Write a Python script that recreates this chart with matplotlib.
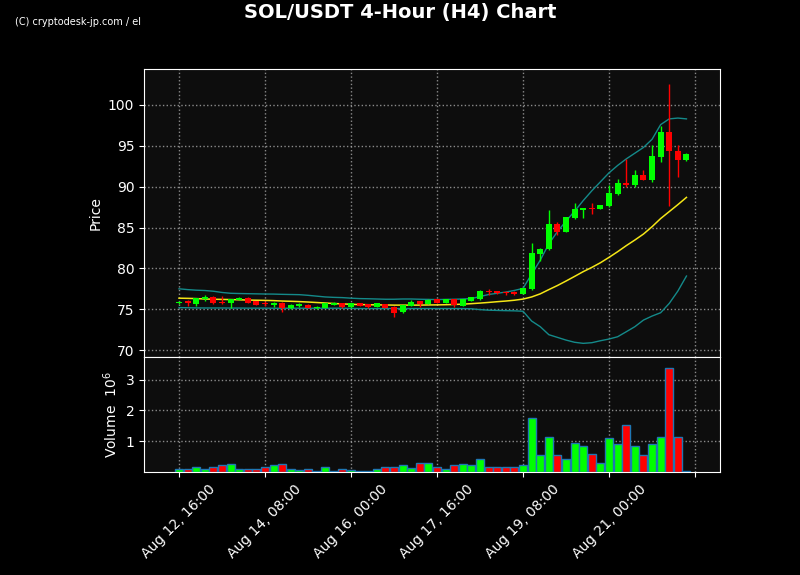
import matplotlib
matplotlib.use("Agg")
import matplotlib.pyplot as plt

# 4-hour candles, Aug 12 16:00 onward
opens = [75.7, 76.0, 75.65, 76.2, 76.5, 75.8, 75.7, 76.15, 76.4, 76.0,
         75.75, 75.55, 75.8, 75.1, 75.45, 75.55, 75.15, 75.2, 75.55, 75.73,
         75.28, 75.73, 75.6, 75.3, 75.6, 75.3, 74.6, 75.45, 75.95, 75.65,
         76.2, 75.75, 76.2, 75.45, 76.0, 76.25, 77.25, 77.2, 77.15, 77.15,
         76.9, 77.5, 81.8, 82.35, 85.4, 84.45, 86.2, 87.15, 87.4, 87.3,
         87.65, 89.1, 90.4, 90.2, 91.4, 90.8, 93.6, 96.75, 94.4, 93.25]
highs = [76.0, 76.1, 76.4, 76.75, 76.6, 76.6, 76.3, 76.5, 76.5, 76.05,
         76.0, 75.85, 75.85, 75.6, 75.8, 75.6, 75.35, 75.75, 75.85, 75.8,
         75.75, 75.78, 75.65, 75.75, 75.65, 75.35, 75.55, 76.1, 76.0, 76.2,
         76.25, 76.25, 76.25, 76.25, 76.5, 77.3, 77.45, 77.25, 77.2, 77.2,
         77.65, 83.05, 82.55, 87.2, 85.7, 86.3, 88.05, 87.45, 87.95, 87.8,
         90.15, 91.0, 93.4, 92.1, 92.0, 95.1, 97.4, 102.6, 95.05, 94.1]
lows = [75.6, 75.4, 75.45, 76.05, 75.6, 75.65, 75.1, 76.1, 75.75, 75.5,
        75.4, 75.25, 74.7, 75.05, 75.3, 75.15, 75.05, 75.15, 75.5, 75.2,
        75.2, 75.4, 75.2, 75.25, 75.1, 74.1, 74.5, 75.4, 75.25, 75.6,
        75.7, 75.7, 75.25, 75.4, 75.95, 76.1, 76.8, 76.85, 76.7, 76.75,
        76.85, 77.4, 80.95, 82.3, 84.1, 84.4, 86.1, 86.2, 86.7, 87.25,
        87.5, 88.95, 89.9, 89.9, 90.8, 90.6, 93.0, 87.6, 91.2, 93.2]
closes = [75.9, 75.7, 76.35, 76.5, 75.7, 75.75, 76.25, 76.4, 75.8, 75.55,
          75.65, 75.8, 75.1, 75.55, 75.65, 75.2, 75.3, 75.7, 75.8, 75.28,
          75.73, 75.45, 75.28, 75.7, 75.15, 74.55, 75.5, 75.9, 75.65, 76.15,
          75.75, 76.2, 75.5, 76.2, 76.45, 77.25, 77.1, 76.95, 77.0, 76.9,
          77.6, 81.9, 82.35, 85.4, 84.5, 86.25, 87.3, 87.4, 87.3, 87.75,
          89.2, 90.4, 90.2, 91.4, 90.85, 93.7, 96.75, 94.35, 93.25, 93.95]
volumes = [0.11, 0.11, 0.15, 0.11, 0.18, 0.22, 0.25, 0.11, 0.11, 0.11,
           0.15, 0.22, 0.25, 0.11, 0.08, 0.11, 0.05, 0.15, 0.05, 0.09,
           0.08, 0.05, 0.05, 0.09, 0.18, 0.18, 0.22, 0.14, 0.28, 0.28,
           0.15, 0.11, 0.22, 0.25, 0.22, 0.41, 0.15, 0.18, 0.15, 0.15,
           0.22, 1.74, 0.57, 1.15, 0.57, 0.41, 0.93, 0.86, 0.60, 0.28,
           1.09, 0.90, 1.54, 0.86, 0.54, 0.90, 1.15, 3.39, 1.15, 0.05]  # x 1e6

sma = [76.35, 76.33, 76.3, 76.25, 76.22, 76.2, 76.18, 76.15, 76.12, 76.1,
       76.08, 76.05, 76.0, 75.97, 75.93, 75.88, 75.82, 75.76, 75.7, 75.65,
       75.6, 75.57, 75.55, 75.53, 75.52, 75.5, 75.5, 75.5, 75.5, 75.52,
       75.53, 75.55, 75.58, 75.62, 75.68, 75.75, 75.83, 75.92, 76.0, 76.1,
       76.24, 76.5, 76.88, 77.4, 77.9, 78.45, 79.02, 79.6, 80.12, 80.69,
       81.35, 82.04, 82.78, 83.47, 84.2, 85.1, 86.1, 86.95, 87.8, 88.69]
bb_upper = [77.5, 77.4, 77.33, 77.29, 77.2, 77.05, 76.95, 76.92, 76.9, 76.88,
            76.86, 76.85, 76.82, 76.8, 76.78, 76.7, 76.6, 76.5, 76.45, 76.42,
            76.35, 76.3, 76.28, 76.25, 76.22, 76.22, 76.25, 76.25, 76.22, 76.2,
            76.18, 76.2, 76.22, 76.25, 76.3, 76.55, 76.8, 76.95, 77.1, 77.3,
            77.55, 79.3, 81.0, 83.0, 84.5, 85.8, 87.0, 88.3, 89.5, 90.6,
            91.7, 92.6, 93.4, 94.1, 94.8, 95.8, 97.6, 98.3, 98.4, 98.3]
bb_lower = [75.2, 75.18, 75.16, 75.15, 75.15, 75.15, 75.14, 75.14, 75.13, 75.13,
            75.13, 75.12, 75.12, 75.12, 75.12, 75.12, 75.12, 75.12, 75.12, 75.12,
            75.1, 75.08, 75.08, 75.08, 75.08, 75.08, 75.08, 75.08, 75.08, 75.08,
            75.08, 75.08, 75.08, 75.08, 75.05, 74.95, 74.88, 74.85, 74.82, 74.8,
            74.75, 73.55, 72.86, 71.88, 71.55, 71.22, 70.95, 70.82, 70.9, 71.14,
            71.35, 71.63, 72.24, 72.86, 73.67, 74.16, 74.57, 75.71, 77.22, 79.06]

tick_pos = [0, 10, 20, 30, 40, 50, 60]
tick_labels = ["Aug 12, 16:00", "Aug 14, 08:00", "Aug 16, 00:00",
               "Aug 17, 16:00", "Aug 19, 08:00", "Aug 21, 00:00", ""]

UP, DOWN = "#00ff00", "#ff0000"
xs = list(range(len(opens)))
colors = [UP if c >= o else DOWN for o, c in zip(opens, closes)]

fig = plt.figure(figsize=(8, 5.75), dpi=100, facecolor="black")
ax = fig.add_axes([0.18, 0.379, 0.72, 0.5009])
axv = fig.add_axes([0.18, 0.179, 0.72, 0.2], sharex=ax)

for a in (ax, axv):
    a.set_facecolor("#0d0d0d")
    for s in a.spines.values():
        s.set_color("white")
    a.tick_params(colors="white", labelsize=10)
    a.grid(True, color="#aaaaaa", linestyle=":", linewidth=1, alpha=0.8)
    a.set_axisbelow(True)

# candles
for x, o, h, l, c, col in zip(xs, opens, highs, lows, closes, colors):
    ax.vlines(x, l, h, color=col, linewidth=1, zorder=3)
    ax.bar(x, max(abs(c - o), 0.08), bottom=min(o, c), width=0.7,
           color=col, linewidth=0, zorder=4)

ax.plot(xs, bb_upper, color="#148a8a", linewidth=1, zorder=2)
ax.plot(xs, bb_lower, color="#148a8a", linewidth=1, zorder=2)
ax.plot(xs, sma, color="#f5e616", linewidth=1.1, zorder=2)

axv.bar(xs, volumes, width=0.92, color=colors, edgecolor="#1f77b4",
        linewidth=1, zorder=3)

ax.set_xlim(-4.07, 62.9)
ax.set_ylim(69.14, 104.4)
ax.set_yticks([70, 75, 80, 85, 90, 95, 100])
ax.set_ylabel("Price", color="white", fontsize=10)
ax.tick_params(axis="x", bottom=False, labelbottom=False)

axv.set_ylim(0, 3.73)
axv.set_yticks([1, 2, 3])
axv.set_ylabel("Volume  $10^{6}$", color="white", fontsize=10)
axv.set_xticks(tick_pos)
axv.set_xticklabels(tick_labels, rotation=45, ha="center")

fig.suptitle("SOL/USDT 4-Hour (H4) Chart", color="white", fontsize=14,
             fontweight="bold", y=0.995)
fig.text(0.019, 0.957, "(C) cryptodesk-jp.com / el", color="white",
         fontsize=7, family="Liberation Sans Narrow")

fig.savefig("out.png", dpi=100, facecolor="black")
